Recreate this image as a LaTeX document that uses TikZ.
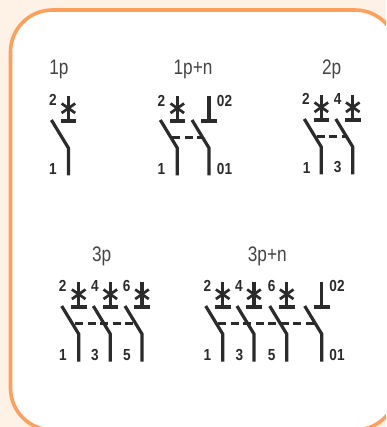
\documentclass[tikz,border=0pt]{standalone}
\usepackage{fontspec}
\setmainfont{Liberation Sans}
\definecolor{bgpeach}{HTML}{FEF1E6}
\definecolor{edgeorange}{HTML}{FF9F5C}
\definecolor{ink}{HTML}{2B2B2B}
\definecolor{titleink}{HTML}{444444}
\tikzset{
  x=1pt,y=-1pt,
  wire/.style={draw=ink,line width=3.2pt,line cap=butt,line join=miter},
  cross/.style={draw=ink,line width=2.7pt},
  gang/.style={draw=ink,line width=2.5pt,dash pattern=on 8pt off 4.5pt},
  titletext/.style={inner sep=0pt,text=titleink,font=\fontsize{21}{23}\selectfont,xscale=.82},
  numtext/.style={inner sep=0pt,text=ink,font=\bfseries\fontsize{16}{18}\selectfont,xscale=.85}
}
% contact arm and terminal: name, x, bar y
\newcommand{\contactarm}[3]{%
  \coordinate (#1top) at (#2-17,#3-1);
  \coordinate (#1knee) at (#2,#3+27);
  \coordinate (#1foot) at (#2,#3+54.5);
  \draw[wire] (#1top) -- (#1knee) -- (#1foot);
  \coordinate (#1stem) at (#2,#3-25);
  \coordinate (#1base) at (#2,#3);
  \coordinate (#1barl) at (#2-7.8,#3);
  \coordinate (#1barr) at (#2+7.8,#3);
  \draw[wire] (#1stem) -- (#1base);
  \draw[wire] (#1barl) -- (#1barr);
}
% the trip mark on a stem: name, x, bar y
\newcommand{\tripmark}[3]{%
  \coordinate (#1a) at (#2-6.8,#3-17.5);
  \coordinate (#1b) at (#2+6.8,#3-8);
  \coordinate (#1c) at (#2-6.8,#3-8);
  \coordinate (#1d) at (#2+6.8,#3-17.5);
  \draw[cross] (#1a) -- (#1b);
  \draw[cross] (#1c) -- (#1d);
}
\begin{document}
\begin{tikzpicture}
\useasboundingbox (0,0) rectangle (386,427);
\fill[bgpeach] (0,0) rectangle (386,427);
\begin{scope}
\clip (0,0) rectangle (386,427);
\draw[edgeorange,line width=3.6pt,fill=white,rounded corners=42pt] (10.5,10) rectangle (397,430);
\end{scope}

% 1p
\node[titletext] (t1) at (59,69.5) {1p};
\contactarm{a}{68.4}{121}\tripmark{a}{68.4}{121}
\node[numtext] (a2) at (53,100) {2};
\node[numtext] (a1) at (53,169) {1};

% 1p+n
\node[titletext] (t2) at (193,69.5) {1p+n};
\contactarm{b}{177.3}{121}\tripmark{b}{177.3}{121}
\contactarm{c}{209}{121}
\coordinate (bd) at (172,137.7);
\coordinate (cd) at (202,137.7);
\draw[gang] (bd) -- (cd);
\node[numtext] (b2) at (161.5,100.5) {2};
\node[numtext] (b1) at (161.5,169) {1};
\node[numtext] (c2) at (224.5,100.5) {02};
\node[numtext] (c1) at (224.5,169) {01};

% 2p
\node[titletext] (t3) at (331.7,69) {2p};
\contactarm{d}{321.3}{120}\tripmark{d}{321.3}{120}
\contactarm{e}{352.8}{120}\tripmark{e}{352.8}{120}
\coordinate (dd) at (316.7,136.3);
\coordinate (ed) at (347,136.3);
\draw[gang] (dd) -- (ed);
\node[numtext] (d2) at (306,99) {2};
\node[numtext] (d1) at (306.7,167.5) {1};
\node[numtext] (e2) at (337.7,99) {4};
\node[numtext] (e1) at (337.7,167.5) {3};

% 3p
\node[titletext] (t4) at (101.7,256.5) {3p};
\contactarm{f}{78.7}{307}\tripmark{f}{78.7}{307}
\contactarm{g}{110.3}{307}\tripmark{g}{110.3}{307}
\contactarm{h}{142}{307}\tripmark{h}{142}{307}
\coordinate (fd) at (75,323.7);
\coordinate (hd) at (136.7,323.7);
\draw[gang] (fd) -- (hd);
\node[numtext] (f2) at (62.7,286) {2};
\node[numtext] (f1) at (63,355) {1};
\node[numtext] (g2) at (95,286) {4};
\node[numtext] (g1) at (95,355) {3};
\node[numtext] (h2) at (126.7,286) {6};
\node[numtext] (h1) at (127,355) {5};

% 3p+n
\node[titletext] (t5) at (267.3,256) {3p+n};
\contactarm{i}{222.7}{307}\tripmark{i}{222.7}{307}
\contactarm{j}{254}{307}\tripmark{j}{254}{307}
\contactarm{k}{286.7}{307}\tripmark{k}{286.7}{307}
\contactarm{l}{321.7}{307}
\coordinate (id) at (218.3,323.7);
\coordinate (ld) at (314,323.7);
\draw[gang] (id) -- (ld);
\node[numtext] (i2) at (207.3,286) {2};
\node[numtext] (i1) at (207.3,355) {1};
\node[numtext] (j2) at (239,286) {4};
\node[numtext] (j1) at (239.3,355) {3};
\node[numtext] (k2) at (271.7,286) {6};
\node[numtext] (k1) at (271.7,355) {5};
\node[numtext] (l2) at (337,286) {02};
\node[numtext] (l1) at (337,355) {01};
\end{tikzpicture}
\end{document}
